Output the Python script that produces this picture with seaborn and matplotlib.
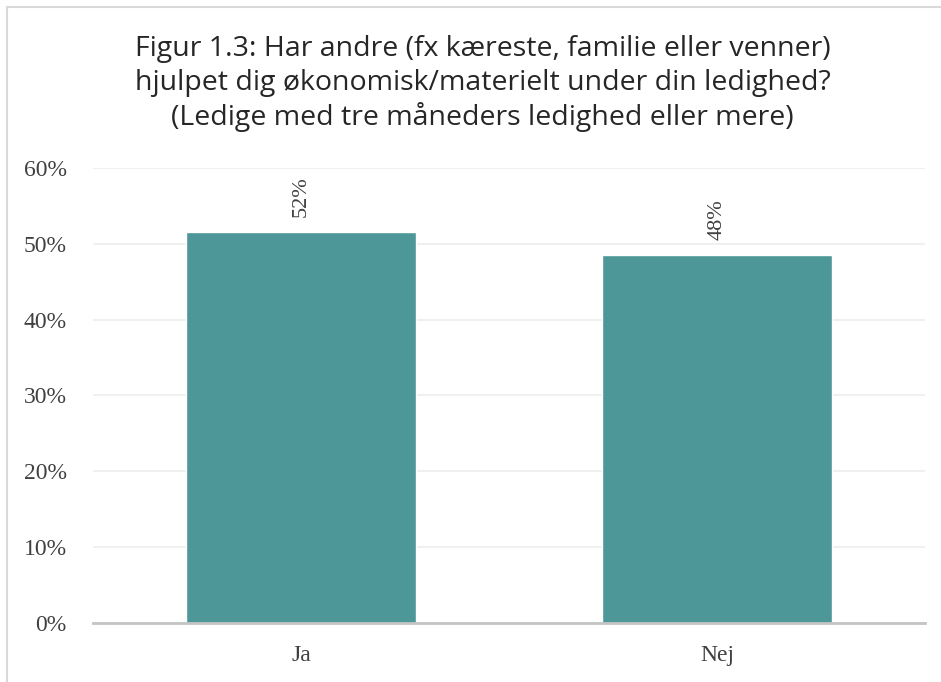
import matplotlib
matplotlib.use("Agg")
import matplotlib.pyplot as plt
import seaborn as sns
import pandas as pd
from matplotlib.patches import Rectangle

categories = ["Ja", "Nej"]
values = [51.5, 48.5]
value_labels = ["52%", "48%"]
yticks = [0, 10, 20, 30, 40, 50, 60]

title = ("Figur 1.3: Har andre (fx kæreste, familie eller venner)\n"
         "hjulpet dig økonomisk/materielt under din ledighed?\n"
         "(Ledige med tre måneders ledighed eller mere)")

sns.set_style("white")
plt.rcParams['font.family'] = ['Liberation Serif', 'DejaVu Serif']

df = pd.DataFrame({"Svar": categories, "Andel": values})

fig = plt.figure(figsize=(9.41, 6.82), dpi=100)
ax = fig.add_axes([0.0988, 0.0865, 0.8842, 0.6672])

sns.barplot(data=df, x="Svar", y="Andel", color="#4E9799", saturation=1,
            width=0.555, ax=ax)

ax.set_xlim(-0.5, 1.5)
ax.set_ylim(0, 60)
ax.set_yticks(yticks)
ax.set_yticklabels([f"{t}%" for t in yticks])
ax.yaxis.grid(True, color="#EDEDED", linewidth=1.2)
ax.set_axisbelow(True)
ax.set_xlabel("")
ax.set_ylabel("")
for s in ["top", "right", "left"]:
    ax.spines[s].set_visible(False)
ax.spines["bottom"].set_color("#C4C4C4")
ax.spines["bottom"].set_linewidth(2)
ax.tick_params(axis="both", length=0, labelsize=17, colors="#404040")
ax.tick_params(axis="y", pad=19)
ax.tick_params(axis="x", pad=16)

for i, (v, lab) in enumerate(zip(values, value_labels)):
    ax.annotate(lab, (i, v), xytext=(0, 11), textcoords="offset points",
                rotation=90, ha="center", va="bottom", fontsize=16, color="#404040")

fig.text(0.513, 0.948, title, ha="center", va="top", fontsize=20.5,
         family=["Open Sans", "DejaVu Sans"], color="#262626", linespacing=1.24)

fig.patches.append(Rectangle((0.0075, -0.01), 1.0, 1.0, transform=fig.transFigure,
                             fill=False, edgecolor="#D9D9D9", linewidth=1.5))

fig.savefig("out.png", dpi=100, facecolor="white")
